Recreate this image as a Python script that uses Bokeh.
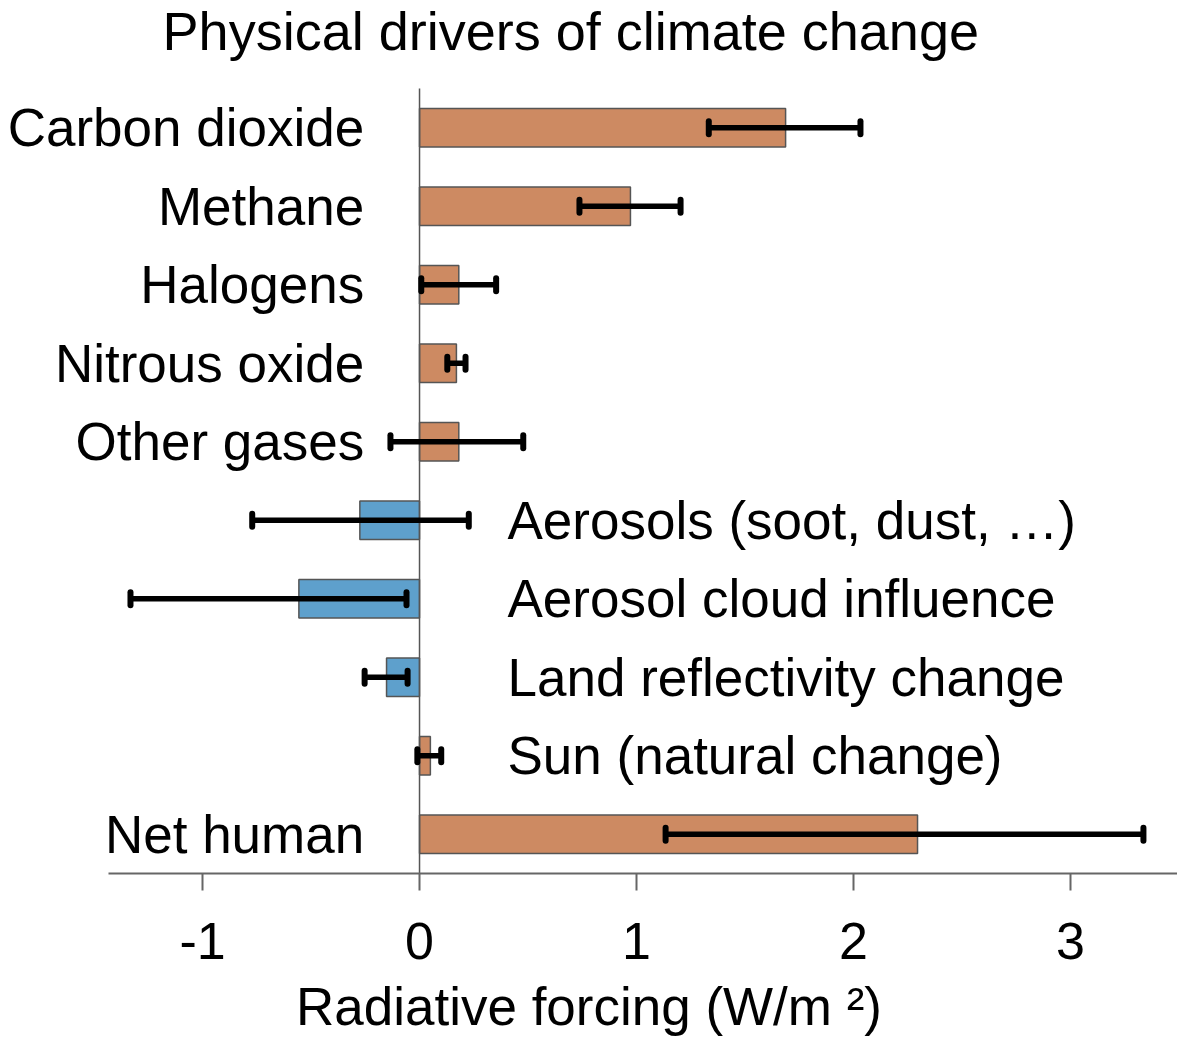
import math
from bokeh.plotting import figure
from bokeh.models import Range1d, FixedTicker, ColumnDataSource
from bokeh.core.properties import value
from bokeh.embed import file_html
from bokeh.resources import INLINE

title_text = "Physical drivers of climate change"
names = ["Carbon dioxide", "Methane", "Halogens", "Nitrous oxide", "Other gases",
         "Aerosols (soot, dust, …)", "Aerosol cloud influence",
         "Land reflectivity change", "Sun (natural change)", "Net human"]
forcing = [1.687, 0.972, 0.181, 0.17, 0.181, -0.275, -0.556, -0.152, 0.05, 2.295]
err_low = [1.333, 0.737, 0.008, 0.128, -0.134, -0.771, -1.332, -0.253, -0.01, 1.134]
err_high = [2.032, 1.203, 0.353, 0.212, 0.478, 0.227, -0.06, -0.055, 0.10, 3.336]
label_side = ["left", "left", "left", "left", "left", "right", "right", "right", "right", "left"]
tick_values = [-1, 0, 1, 2, 3]
tick_labels = ["-1", "0", "1", "2", "3"]

ORANGE = "#CD8A62"
BLUE = "#5EA0CC"
FONT = "Liberation Sans"

n = len(names)
pos = list(range(n))  # row index, top row first

p = figure(width=1177, height=1040, output_backend="svg", toolbar_location=None,
           x_range=Range1d(-1.931, 3.493), y_range=Range1d(n - 0.5, -1.621),
           min_border_left=0, min_border_right=0, min_border_top=0, min_border_bottom=167)
p.outline_line_color = None
p.grid.visible = False
p.yaxis.visible = False
p.background_fill_color = "white"
p.border_fill_color = "white"

xa = p.xaxis[0]
xa.bounds = (-1.433, 3.493)
xa.ticker = FixedTicker(ticks=tick_values)
xa.major_label_overrides = {v: l for v, l in zip(tick_values, tick_labels)}
xa.minor_tick_line_color = None
xa.major_tick_in = 0
xa.major_tick_out = 17
xa.major_tick_line_color = "#666666"
xa.major_tick_line_width = 2
xa.axis_line_color = "#666666"
xa.axis_line_width = 2
xa.major_label_text_font = FONT
xa.major_label_text_font_size = "52px"
xa.major_label_text_color = "black"
xa.major_label_standoff = 32
xa.axis_label = "Radiative forcing (W/m ²)"
xa.axis_label_text_font = FONT
xa.axis_label_text_font_size = "53px"
xa.axis_label_text_font_style = "normal"
xa.axis_label_text_color = "black"
xa.axis_label_standoff = 15

left = [min(0, v) for v in forcing]
right = [max(0, v) for v in forcing]
colors = [ORANGE if v >= 0 else BLUE for v in forcing]
src = ColumnDataSource(dict(y=pos, name=names, left=left, right=right, color=colors,
                            lo=err_low, hi=err_high))
p.hbar(y="y", left="left", right="right", height=0.49, fill_color="color",
       line_color="#555555", line_width=1.5, source=src)

# zero line spanning the category rows
p.segment(x0=[0], y0=[-0.5], x1=[0], y1=[n - 0.5], line_color="#555555", line_width=1.5)

p.segment(x0="lo", y0="y", x1="hi", y1="y", line_color="black", line_width=5.5, source=src)
for col in ("lo", "hi"):
    p.scatter(x=col, y="y", marker="dash", angle=math.pi / 2, size=13,
              line_color="black", line_width=6, line_cap="round", source=src)

ln = [(i, s) for i, (s, side) in enumerate(zip(names, label_side)) if side == "left"]
rn = [(i, s) for i, (s, side) in enumerate(zip(names, label_side)) if side == "right"]
p.text(x=[-0.255] * len(ln), y=[i for i, _ in ln], text=[s for _, s in ln],
       text_align="right", text_baseline="middle",
       text_font=value(FONT), text_font_size="53px", text_color="black")
p.text(x=[0.4055] * len(rn), y=[i for i, _ in rn], text=[s for _, s in rn],
       text_align="left", text_baseline="middle",
       text_font=value(FONT), text_font_size="53px", text_color="black")

# chart title
p.text(x=[-1.184], y=[-1.227], text=[title_text], text_align="left", text_baseline="alphabetic",
       text_font=value(FONT), text_font_size="54px", text_color="black")

open("out.html", "w").write(file_html(p, INLINE))
